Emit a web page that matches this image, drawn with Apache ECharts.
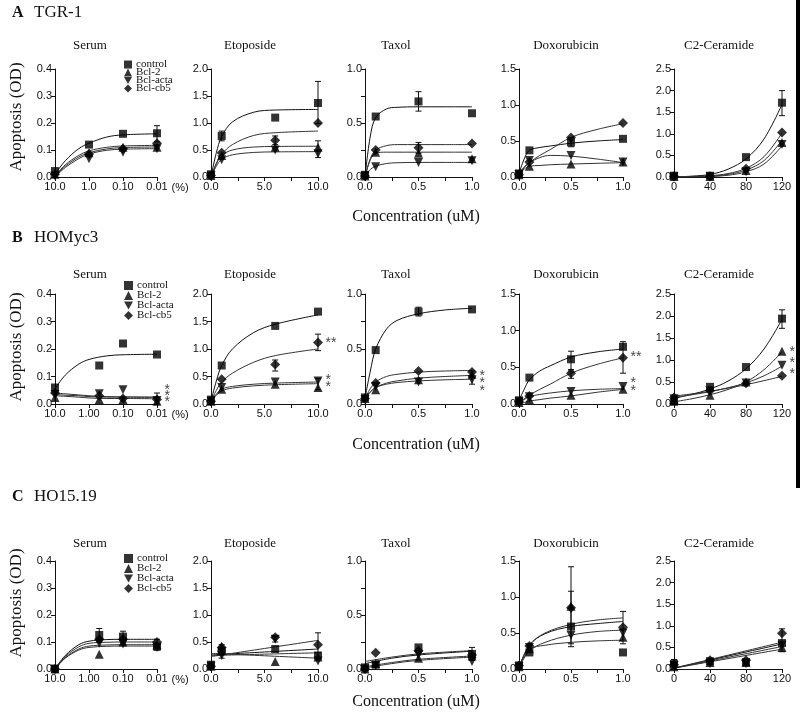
<!DOCTYPE html>
<html>
<head>
<meta charset="utf-8">
<script src="https://cdn.jsdelivr.net/npm/echarts@6/dist/echarts.min.js"></script>
<style>
  html, body { margin: 0; background: #fff; }
  #chart { width: 800px; height: 716px; }
</style>
</head>
<body>
<div id="chart"></div>
<script>
// order of the four groups in every panel
const groups = ['control', 'Bcl-2', 'Bcl-acta', 'Bcl-cb5'];
const drugs = ['Serum', 'Etoposide', 'Taxol', 'Doxorubicin', 'C2-Ceramide'];
const rowLetters = ['A', 'B', 'C'];
const cellLines = ['TGR-1', 'HOMyc3', 'HO15.19'];
const serumTicksA = ['10.0', '1.0', '0.10', '0.01'];
const serumTicksBC = ['10.0', '1.00', '0.10', '0.01'];

// doses
const serumDoseA = [10, 1, 0.1, 0.01];
const serumDoseBC = [10, 0.5, 0.1, 0.01];
const etoDose = [0, 1, 6, 10];
const uMDose = [0, 0.1, 0.5, 1];
const cerDose = [0, 40, 80, 120];

// x positions where the fitted curves were read
const serumFitX = [10, 5, 2, 1, 0.3, 0.1, 0.01];
const etoFitX = [0, 0.5, 1, 2, 4, 6, 10];
const uMFitX = [0, 0.05, 0.1, 0.2, 0.3, 0.5, 0.75, 1];
const cerFitX = [0, 20, 40, 60, 80, 100, 120];
const cEtoFitX = [0, 10];
const cTaxFitX = [0, 0.25, 0.5, 1];
const cDoxFitX = [0, 0.1, 0.25, 0.5, 0.75, 1];
const cCerFitX = [0, 120];

// ---- A  TGR-1
const aSerum = [[0.022, 0.12, 0.16, 0.162], [0.01, 0.09, 0.11, 0.11], [0.005, 0.068, 0.092, 0.105], [0.01, 0.085, 0.105, 0.125]];
const aSerumFit = [[0.01, 0.06, 0.105, 0.125, 0.148, 0.156, 0.16], [0.005, 0.045, 0.08, 0.097, 0.11, 0.115, 0.117], [0, 0.035, 0.068, 0.085, 0.099, 0.103, 0.105], [0.003, 0.04, 0.074, 0.09, 0.104, 0.109, 0.111]];
const aSerumErr = [[0.01, 0.13, 0.19]];

const aEto = [[0.05, 0.76, 1.1, 1.37], [0.03, 0.4, 0.55, 0.55], [0.02, 0.32, 0.5, 0.43], [0.03, 0.45, 0.68, 1.0]];
const aEtoFit = [[0, 0.45, 0.75, 1.02, 1.2, 1.24, 1.25], [0, 0.25, 0.4, 0.5, 0.555, 0.565, 0.57], [0, 0.2, 0.33, 0.41, 0.455, 0.465, 0.47], [0, 0.25, 0.42, 0.6, 0.77, 0.82, 0.85]];
const aEtoErr = [[1, 0.67, 0.85], [10, 0.99, 1.77], [6, 0.6, 0.76], [10, 0.36, 0.67]];

const aTax = [[0.02, 0.56, 0.7, 0.59], [0.01, 0.23, 0.22, 0.17], [0.01, 0.095, 0.135, 0.15], [0.01, 0.25, 0.27, 0.31]];
const aTaxFit = [[0, 0.38, 0.55, 0.63, 0.645, 0.65, 0.65, 0.65], [0, 0.16, 0.22, 0.23, 0.23, 0.23, 0.23, 0.23], [0, 0.07, 0.1, 0.125, 0.132, 0.135, 0.135, 0.135], [0, 0.17, 0.25, 0.29, 0.3, 0.3, 0.3, 0.3]];
const aTaxErr = [[0.5, 0.61, 0.79], [0.5, 0.22, 0.32]];

const aDox = [[0.05, 0.37, 0.48, 0.53], [0.03, 0.15, 0.18, 0.21], [0.03, 0.23, 0.3, 0.21], [0.03, 0.21, 0.55, 0.75]];
const aDoxFit = [[0.05, 0.25, 0.37, 0.41, 0.43, 0.47, 0.5, 0.52], [0.05, 0.11, 0.15, 0.16, 0.17, 0.18, 0.19, 0.2], [0.05, 0.14, 0.2, 0.27, 0.3, 0.29, 0.25, 0.2], [0.05, 0.13, 0.2, 0.3, 0.38, 0.55, 0.66, 0.74]];
const aDoxErr = [[0.5, 0.42, 0.55]];

const aCer = [[0.03, 0.03, 0.46, 1.72], [0.01, 0.01, 0.15, 0.8], [0, 0, 0.12, 0.75], [0.02, 0.02, 0.19, 1.03]];
const aCerFit = [[0, 0.02, 0.06, 0.18, 0.42, 0.88, 1.68], [0, 0.01, 0.02, 0.06, 0.16, 0.38, 0.85], [0, 0, 0.01, 0.04, 0.12, 0.3, 0.72], [0, 0.01, 0.03, 0.08, 0.2, 0.47, 1.02]];
const aCerErr = [[120, 1.42, 2.0]];

// ---- B  HOMyc3
const bSerum = [[0.06, 0.14, 0.22, 0.18], [0.024, 0.016, 0.016, 0.01], [0.035, 0.037, 0.052, 0.013], [0.04, 0.03, 0.02, 0.016]];
const bSerumFit = [[0.055, 0.105, 0.145, 0.162, 0.175, 0.179, 0.181], [0.03, 0.028, 0.025, 0.022, 0.02, 0.02, 0.019], [0.035, 0.032, 0.03, 0.027, 0.025, 0.025, 0.024], [0.04, 0.037, 0.033, 0.03, 0.027, 0.026, 0.025]];
const bSerumErr = [[0.01, 0.0, 0.04]];
const bSerumStars = [[0.01, 0.05, '*'], [0.01, 0.028, '*'], [0.01, 0.006, '*']];

const bEto = [[0.08, 0.7, 1.42, 1.68], [0.05, 0.27, 0.36, 0.3], [0.05, 0.3, 0.4, 0.42], [0.05, 0.45, 0.72, 1.12]];
const bEtoFit = [[0.05, 0.42, 0.7, 1.0, 1.3, 1.45, 1.62], [0.05, 0.16, 0.24, 0.29, 0.33, 0.35, 0.37], [0.05, 0.18, 0.27, 0.32, 0.36, 0.38, 0.4], [0.05, 0.25, 0.4, 0.56, 0.76, 0.88, 1.0]];
const bEtoErr = [[10, 0.97, 1.27], [6, 0.6, 0.8], [10, 0.26, 0.46]];
const bEtoStars = [[10, 1.1, '**'], [10, 0.44, '*'], [10, 0.3, '*']];

const bTax = [[0.06, 0.49, 0.84, 0.86], [0.05, 0.13, 0.22, 0.27], [0.04, 0.16, 0.2, 0.22], [0.05, 0.19, 0.3, 0.29]];
const bTaxFit = [[0.05, 0.3, 0.5, 0.68, 0.76, 0.82, 0.855, 0.87], [0.05, 0.11, 0.15, 0.19, 0.21, 0.235, 0.25, 0.26], [0.05, 0.11, 0.15, 0.18, 0.195, 0.21, 0.22, 0.225], [0.05, 0.14, 0.2, 0.25, 0.27, 0.29, 0.3, 0.305]];
const bTaxErr = [[0.5, 0.8, 0.88], [1, 0.18, 0.3]];
const bTaxStars = [[1, 0.25, '*'], [1, 0.19, '*'], [1, 0.12, '*']];

const bDox = [[0.05, 0.36, 0.61, 0.78], [0.02, 0.06, 0.12, 0.2], [0.03, 0.1, 0.17, 0.24], [0.03, 0.11, 0.42, 0.63]];
const bDoxFit = [[0.05, 0.2, 0.33, 0.45, 0.52, 0.64, 0.71, 0.75], [0, 0.02, 0.04, 0.06, 0.08, 0.11, 0.16, 0.2], [0.02, 0.06, 0.1, 0.13, 0.15, 0.18, 0.2, 0.21], [0.02, 0.07, 0.12, 0.2, 0.27, 0.42, 0.54, 0.63]];
const bDoxErr = [[0.5, 0.47, 0.72], [1, 0.42, 0.85], [0.5, 0.35, 0.45]];
const bDoxStars = [[1, 0.64, '**'], [1, 0.28, '*'], [1, 0.18, '*']];

const bCer = [[0.05, 0.39, 0.84, 1.94], [0.1, 0.2, 0.5, 1.2], [0.12, 0.3, 0.48, 0.88], [0.15, 0.3, 0.47, 0.64]];
const bCerFit = [[0.13, 0.22, 0.34, 0.52, 0.8, 1.25, 1.92], [0.05, 0.12, 0.21, 0.33, 0.5, 0.78, 1.18], [0.15, 0.21, 0.28, 0.37, 0.48, 0.64, 0.86], [0.18, 0.23, 0.29, 0.36, 0.44, 0.53, 0.63]];
const bCerErr = [[120, 1.72, 2.14]];
const bCerStars = [[120, 1.18, '*'], [120, 0.92, '*'], [120, 0.67, '*']];

// ---- C  HO15.19
const cSerum = [[0, 0.126, 0.12, 0.083], [0, 0.055, 0.1, 0.09], [0, 0.095, 0.093, 0.08], [0, 0.11, 0.11, 0.1]];
const cSerumFit = [[0, 0.05, 0.09, 0.103, 0.109, 0.11, 0.11], [0, 0.04, 0.07, 0.08, 0.084, 0.085, 0.085], [0, 0.042, 0.074, 0.085, 0.089, 0.09, 0.09], [0, 0.046, 0.082, 0.095, 0.099, 0.1, 0.1]];
const cSerumErr = [[0.5, 0.1, 0.15], [0.1, 0.09, 0.14], [0.01, 0.07, 0.11]];

const cEto = [[0.08, 0.33, 0.37, 0.25], [0.05, 0.42, 0.14, 0.22], [0.05, 0.25, 0.55, 0.15], [0.05, 0.4, 0.59, 0.45]];
const cEtoFit = [[0.26, 0.37], [0.29, 0.2], [0.25, 0.3], [0.23, 0.53]];
const cEtoErr = [[1, 0.2, 0.45], [6, 0.5, 0.62], [10, 0.3, 0.67]];

const cTax = [[0.015, 0.04, 0.2, 0.14], [0, 0.05, 0.1, 0.12], [0, 0.03, 0.13, 0.07], [0, 0.15, 0.17, 0.13]];
const cTaxFit = [[0.05, 0.1, 0.13, 0.165], [0.02, 0.06, 0.09, 0.12], [0.01, 0.05, 0.08, 0.11], [0.07, 0.11, 0.14, 0.17]];
const cTaxErr = [[1, 0.08, 0.2]];

const cDox = [[0.05, 0.23, 0.59, 0.23], [0.03, 0.28, 0.87, 0.44], [0.03, 0.3, 0.47, 0.5], [0.05, 0.32, 0.85, 0.58]];
const cDoxFit = [[0.02, 0.33, 0.49, 0.59, 0.63, 0.66], [0.02, 0.27, 0.33, 0.37, 0.39, 0.4], [0.02, 0.25, 0.37, 0.47, 0.52, 0.54], [0.02, 0.33, 0.5, 0.62, 0.68, 0.71]];
const cDoxErr = [[0.5, 0.31, 1.42], [0.5, 0.35, 1.08], [1, 0.35, 0.8]];

const cCer = [[0.12, 0.18, 0.16, 0.6], [0.05, 0.15, 0.15, 0.5], [0.08, 0.12, 0.12, 0.55], [0.1, 0.2, 0.2, 0.83]];
const cCerFit = [[0.02, 0.58], [0.02, 0.46], [0.02, 0.52], [0.02, 0.62]];
const cCerErr = [[120, 0.4, 0.93], [0, 0, 0.22]];

// layout
const colLeft = [55, 211, 365, 519, 674];
const colWidth = [102, 107, 107, 104, 108];
const rowTop = [69, 294, 561];
const rowHeight = [108, 110, 108];
const yMax = [0.4, 2.0, 1.0, 1.5, 2.5];
const yStep = [0.1, 0.5, 0.5, 0.5, 0.5];
const titleX = [90, 250, 396, 566, 719];
const rowTitleY = [13, 238, 497];
const drugTitleY = [46, 275, 544];
const concY = [217, 445, 702];
const odY = [117, 347, 603];
const legendTop = [59, 280, 553];
const legendGap = [-3, -1, -1];
const legendItem = [8, 9, 9];

const symbols = ['rect', 'triangle', 'path://M0,0L10,0L5,9Z', 'diamond'];
const symbolSizes = [8, 9, 9, 10];

const panels = [
  [
    { dose: serumDoseA, vals: aSerum, fitX: serumFitX, fit: aSerumFit, err: aSerumErr, stars: [] },
    { dose: etoDose, vals: aEto, fitX: etoFitX, fit: aEtoFit, err: aEtoErr, stars: [] },
    { dose: uMDose, vals: aTax, fitX: uMFitX, fit: aTaxFit, err: aTaxErr, stars: [] },
    { dose: uMDose, vals: aDox, fitX: uMFitX, fit: aDoxFit, err: aDoxErr, stars: [] },
    { dose: cerDose, vals: aCer, fitX: cerFitX, fit: aCerFit, err: aCerErr, stars: [] }
  ],
  [
    { dose: serumDoseBC, vals: bSerum, fitX: serumFitX, fit: bSerumFit, err: bSerumErr, stars: bSerumStars },
    { dose: etoDose, vals: bEto, fitX: etoFitX, fit: bEtoFit, err: bEtoErr, stars: bEtoStars },
    { dose: uMDose, vals: bTax, fitX: uMFitX, fit: bTaxFit, err: bTaxErr, stars: bTaxStars },
    { dose: uMDose, vals: bDox, fitX: uMFitX, fit: bDoxFit, err: bDoxErr, stars: bDoxStars },
    { dose: cerDose, vals: bCer, fitX: cerFitX, fit: bCerFit, err: bCerErr, stars: bCerStars }
  ],
  [
    { dose: serumDoseBC, vals: cSerum, fitX: serumFitX, fit: cSerumFit, err: cSerumErr, stars: [] },
    { dose: etoDose, vals: cEto, fitX: cEtoFitX, fit: cEtoFit, err: cEtoErr, stars: [] },
    { dose: uMDose, vals: cTax, fitX: cTaxFitX, fit: cTaxFit, err: cTaxErr, stars: [] },
    { dose: uMDose, vals: cDox, fitX: cDoxFitX, fit: cDoxFit, err: cDoxErr, stars: [] },
    { dose: cerDose, vals: cCer, fitX: cCerFitX, fit: cCerFit, err: cCerErr, stars: [] }
  ]
];

const ink = '#111';
const sans = 'Liberation Sans';
const serif = 'Liberation Serif';
const tickLabel = { fontSize: 11, color: ink, fontFamily: sans };

function errRender(params, api) {
  const x = api.value(0);
  const a = api.coord([x, api.value(1)]);
  const b = api.coord([x, api.value(2)]);
  const st = { stroke: ink, lineWidth: 1 };
  return {
    type: 'group',
    children: [
      { type: 'line', shape: { x1: a[0], y1: a[1], x2: b[0], y2: b[1] }, style: st },
      { type: 'line', shape: { x1: a[0] - 3, y1: a[1], x2: a[0] + 3, y2: a[1] }, style: st },
      { type: 'line', shape: { x1: b[0] - 3, y1: b[1], x2: b[0] + 3, y2: b[1] }, style: st }
    ]
  };
}

const grid = [], xAxis = [], yAxis = [], series = [], graphic = [];

panels.forEach((row, r) => {
  row.forEach((p, c) => {
    const gi = grid.length;
    grid.push({ left: colLeft[c], top: rowTop[r], width: colWidth[c], height: rowHeight[r] });

    const xa = {
      gridIndex: gi,
      axisLine: { onZero: false, lineStyle: { color: ink, width: 1 } },
      axisTick: { length: 4, lineStyle: { color: ink } },
      axisLabel: Object.assign({ margin: 4 }, tickLabel),
      splitLine: { show: false }
    };
    if (c === 0) {
      const labels = r === 0 ? serumTicksA : serumTicksBC;
      // inverted log axis: 'start' is the 0.01 end on the right
      Object.assign(xa, {
        type: 'log', logBase: 10, min: 0.01, max: 10, inverse: true,
        name: '(%)', nameLocation: 'start', nameGap: r === 0 ? 6 : 13,
        nameTextStyle: { fontSize: 11, color: ink, fontFamily: sans, verticalAlign: 'top', padding: [5, 0, 0, 0] }
      });
      xa.axisLabel.formatter = v => labels[Math.round(-Math.log10(v)) + 1];
    } else if (c === 1) {
      Object.assign(xa, { type: 'value', min: 0, max: 10, interval: 5, minorTick: { show: true, splitNumber: 2, length: 4, lineStyle: { color: ink } } });
      xa.axisLabel.formatter = v => v.toFixed(1);
    } else if (c === 4) {
      Object.assign(xa, { type: 'value', min: 0, max: 120, interval: 40 });
    } else {
      Object.assign(xa, { type: 'value', min: 0, max: 1, interval: 0.5, minorTick: { show: true, splitNumber: 2, length: 4, lineStyle: { color: ink } } });
      xa.axisLabel.formatter = v => v.toFixed(1);
    }
    xAxis.push(xa);

    yAxis.push({
      type: 'value', gridIndex: gi, min: 0, max: yMax[c], interval: yStep[c],
      axisLine: { show: true, onZero: false, lineStyle: { color: ink, width: 1 } },
      axisTick: { show: true, length: 4, lineStyle: { color: ink } },
      minorTick: { show: c === 2, splitNumber: 2, length: 4, lineStyle: { color: ink } },
      axisLabel: Object.assign({ margin: 3, formatter: v => v.toFixed(1) }, tickLabel),
      splitLine: { show: false }
    });

    // fitted curves
    p.fit.forEach((f, k) => {
      series.push({
        type: 'line', name: 'fit', xAxisIndex: gi, yAxisIndex: gi,
        data: p.fitX.map((x, i) => [x, f[i]]),
        smooth: 0.35, showSymbol: false, silent: true, z: 2,
        lineStyle: { color: k === 0 ? ink : '#333', width: 1 }
      });
    });

    // error bars
    if (p.err.length) {
      series.push({
        type: 'custom', xAxisIndex: gi, yAxisIndex: gi, data: p.err,
        encode: { x: 0, y: [1, 2] }, renderItem: errRender, silent: true, z: 3
      });
    }

    // markers
    p.vals.forEach((v, k) => {
      series.push({
        type: 'scatter', name: groups[k], xAxisIndex: gi, yAxisIndex: gi,
        data: p.dose.map((x, i) => [x, v[i]]),
        symbol: symbols[k], symbolSize: symbolSizes[k],
        itemStyle: { color: '#000' }, z: 4
      });
    });

    // significance marks
    if (p.stars.length) {
      series.push({
        type: 'scatter', name: 'sig', xAxisIndex: gi, yAxisIndex: gi,
        data: p.stars.map(s => ({ value: [s[0], s[1]], name: s[2] })),
        symbolSize: 1, itemStyle: { color: 'rgba(0,0,0,0)' }, silent: true, z: 5,
        label: { show: true, position: 'right', distance: 7, formatter: '{b}', fontSize: 14, color: ink, fontFamily: sans }
      });
    }

    graphic.push({
      type: 'text', x: titleX[c], y: drugTitleY[r],
      style: { text: drugs[c], font: '13px "Liberation Serif"', fill: ink, align: 'center', verticalAlign: 'middle' }
    });
  });

  graphic.push(
    { type: 'text', x: 12, y: rowTitleY[r], style: { text: rowLetters[r], font: 'bold 16px "Liberation Serif"', fill: ink, verticalAlign: 'middle' } },
    { type: 'text', x: 34, y: rowTitleY[r], style: { text: cellLines[r], font: '17px "Liberation Serif"', fill: ink, verticalAlign: 'middle' } },
    { type: 'text', x: 416, y: concY[r], style: { text: 'Concentration (uM)', font: '16px "Liberation Serif"', fill: ink, align: 'center', verticalAlign: 'middle' } },
    { type: 'text', x: 17, y: odY[r], rotation: Math.PI / 2, style: { text: 'Apoptosis (OD)', font: '17px "Liberation Serif"', fill: ink, align: 'center', verticalAlign: 'middle' } }
  );
});

// dark scan edge along the right border of the top two rows
graphic.push({ type: 'rect', shape: { x: 796, y: 0, width: 4, height: 488 }, style: { fill: '#000' }, silent: true });

const legend = rowTop.map((t, r) => ({
  orient: 'vertical', left: 124, top: legendTop[r], padding: 0,
  itemWidth: legendItem[r], itemHeight: legendItem[r], itemGap: legendGap[r], selectedMode: false,
  data: groups.map((g, k) => ({ name: g, icon: symbols[k] })),
  itemStyle: { color: '#000' },
  textStyle: { fontFamily: serif, fontSize: 11, color: ink, lineHeight: 8, padding: [0, 0, 0, -1] }
}));

const chart = echarts.init(document.getElementById('chart'));
chart.setOption({
  animation: false,
  backgroundColor: '#fff',
  grid, xAxis, yAxis, series, legend, graphic
});
</script>
</body>
</html>
